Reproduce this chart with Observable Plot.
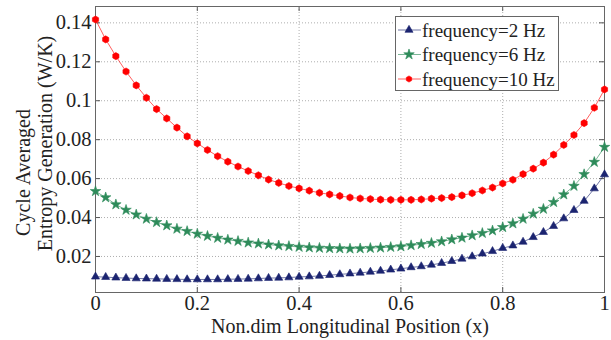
<!DOCTYPE html>
<html>
<head>
<meta charset="utf-8">
<script src="https://cdn.jsdelivr.net/npm/d3@7"></script>
<script src="https://cdn.jsdelivr.net/npm/@observablehq/plot@0.6"></script>
<style>
  html, body { margin: 0; padding: 0; background: #fff; }
  #wrap { position: relative; width: 611px; height: 340px; }
  #legend { position: absolute; left: 395px; top: 16px; }
</style>
</head>
<body>
<div id="wrap"></div>
<script>
// ---- data ----
const positions = [0,0.02,0.04,0.06,0.08,0.1,0.12,0.14,0.16,0.18,0.2,0.22,0.24,0.26,0.28,0.3,0.32,0.34,0.36,0.38,0.4,0.42,0.44,0.46,0.48,0.5,0.52,0.54,0.56,0.58,0.6,0.62,0.64,0.66,0.68,0.7,0.72,0.74,0.76,0.78,0.8,0.82,0.84,0.86,0.88,0.9,0.92,0.94,0.96,0.98,1];
const freq2 = [0.0096,0.0094,0.0091,0.0089,0.0087,0.0086,0.0085,0.0084,0.0083,0.0082,0.0082,0.0082,0.0082,0.0083,0.0084,0.0085,0.0087,0.0089,0.0090,0.0092,0.0095,0.0097,0.0100,0.0104,0.0108,0.0112,0.0116,0.0121,0.0126,0.0132,0.0137,0.0144,0.0149,0.0157,0.0166,0.0176,0.0188,0.0200,0.0214,0.0227,0.0243,0.0256,0.0275,0.0299,0.0325,0.0356,0.0395,0.0438,0.0485,0.0549,0.0621];
const freq6 = [0.0535,0.0503,0.0467,0.0439,0.0415,0.0393,0.0376,0.0359,0.0342,0.0330,0.0316,0.0305,0.0295,0.0286,0.0279,0.0271,0.0266,0.0261,0.0256,0.0253,0.0249,0.0246,0.0244,0.0242,0.0241,0.0240,0.0241,0.0243,0.0245,0.0248,0.0251,0.0257,0.0263,0.0269,0.0277,0.0287,0.0296,0.0308,0.0320,0.0333,0.0350,0.0369,0.0393,0.0419,0.0444,0.0479,0.0518,0.0562,0.0622,0.0685,0.0762];
const freq10 = [0.1417,0.1315,0.1229,0.1150,0.1079,0.1015,0.0957,0.0909,0.0862,0.0817,0.0781,0.0747,0.0715,0.0687,0.0662,0.0639,0.0617,0.0595,0.0578,0.0562,0.0550,0.0538,0.0527,0.0519,0.0511,0.0503,0.0498,0.0495,0.0492,0.0491,0.0491,0.0491,0.0493,0.0497,0.0500,0.0505,0.0514,0.0525,0.0539,0.0554,0.0575,0.0594,0.0623,0.0651,0.0682,0.0723,0.0773,0.0824,0.0885,0.0964,0.1058];
const seriesNames = ["frequency=2 Hz", "frequency=6 Hz", "frequency=10 Hz"];
const xTicks = [0, 0.2, 0.4, 0.6, 0.8, 1];
const xTickLabels = ["0", "0.2", "0.4", "0.6", "0.8", "1"];
const yTicks = [0.02, 0.04, 0.06, 0.08, 0.1, 0.12, 0.14];
const yTickLabels = ["0.02", "0.04", "0.06", "0.08", "0.1", "0.12", "0.14"];
const xLabel = "Non.dim Longitudinal Position (x)";
const yLabelLine1 = "Cycle Averaged";
const yLabelLine2 = "Entropy Generation (W/K)";

// ---- styles ----
const colors = ["#1b2470", "#2e8b5a", "#ff0000"];
const symbols = ["triangle", "star", "hexagon"];
const radii = [3.0, 3.3, 3.1];
const font = "Liberation Serif, Times New Roman, serif";

const allSeries = [freq2, freq6, freq10];
const rows = [];
allSeries.forEach((vals, i) => vals.forEach((v, j) => rows.push({x: positions[j], y: v, s: seriesNames[i]})));

const W = 611, H = 340, mL = 95, mR = 7, mT = 6, mB = 48;
const pw = W - mL - mR, ph = H - mT - mB;
const tickLen = 5;

const lineMarks = seriesNames.map((name, i) =>
  Plot.line(rows.filter(r => r.s === name), {x: "x", y: "y", stroke: colors[i], strokeWidth: 0.9, strokeOpacity: 0.7}));
const dotMarks = seriesNames.map((name, i) =>
  Plot.dot(rows.filter(r => r.s === name), {x: "x", y: "y", fill: colors[i], stroke: colors[i], strokeWidth: 0.6, symbol: symbols[i], r: radii[i]}));

const chart = Plot.plot({
  width: W, height: H,
  marginLeft: mL, marginRight: mR, marginTop: mT, marginBottom: mB,
  style: {fontFamily: font, fontSize: "20.5px", background: "#fff", color: "#222"},
  x: {domain: [0, 1]},
  y: {domain: [0.0015, 0.1484]},
  marks: [
    Plot.gridX(xTicks, {stroke: "#9a9a9a", strokeOpacity: 0.8, strokeDasharray: "1,2"}),
    Plot.gridY(yTicks, {stroke: "#9a9a9a", strokeOpacity: 0.8, strokeDasharray: "1,2"}),
    Plot.tickX(xTicks, {x: d => d, insetTop: ph - tickLen, stroke: "#555"}),
    Plot.tickX(xTicks, {x: d => d, insetBottom: ph - tickLen, stroke: "#555"}),
    Plot.tickY(yTicks, {y: d => d, insetRight: pw - tickLen, stroke: "#555"}),
    Plot.tickY(yTicks, {y: d => d, insetLeft: pw - tickLen, stroke: "#555"}),
    Plot.frame({stroke: "#666", strokeWidth: 1}),
    Plot.axisX(xTicks, {tickSize: 0, tickPadding: 3, tickFormat: (d, i) => xTickLabels[i], label: null, fontSize: 20.5, fill: "#222"}),
    Plot.axisY(yTicks, {tickSize: 0, tickPadding: 4, tickFormat: (d, i) => yTickLabels[i], label: null, fontSize: 20.5, fill: "#222"}),
    Plot.text([xLabel], {frameAnchor: "bottom", lineAnchor: "middle", dy: 34, fontSize: 20, fill: "#222"}),
    Plot.text([yLabelLine1], {frameAnchor: "left", textAnchor: "middle", lineAnchor: "middle", rotate: -90, dx: -72, dy: 23, fontSize: 20, fill: "#222"}),
    Plot.text([yLabelLine2], {frameAnchor: "left", textAnchor: "middle", lineAnchor: "middle", rotate: -90, dx: -50, dy: -6, fontSize: 20, fill: "#222"}),
    ...lineMarks,
    ...dotMarks
  ]
});
document.getElementById("wrap").appendChild(chart);

// ---- legend ----
const lw = 164, lh = 75;
const leg = d3.select("#wrap").append("svg").attr("id", "legend").attr("width", lw).attr("height", lh)
  .style("font-family", font).style("font-size", "19px");
leg.append("rect").attr("x", 0.5).attr("y", 0.5).attr("width", lw - 1).attr("height", lh - 1)
  .attr("fill", "#fff").attr("stroke", "#666");
const hexagon = {draw(ctx, size) { const r = Math.sqrt(size / Math.PI); for (let k = 0; k < 6; ++k) { const a = Math.PI / 3 * k; const px = r * Math.sin(a), py = -r * Math.cos(a); if (k === 0) ctx.moveTo(px, py); else ctx.lineTo(px, py); } ctx.closePath(); }};
const symMap = {triangle: d3.symbolTriangle, star: d3.symbolStar, hexagon: hexagon};
seriesNames.forEach((name, i) => {
  const cy = 14 + i * 24.5;
  leg.append("line").attr("x1", 3).attr("x2", 26).attr("y1", cy).attr("y2", cy)
    .attr("stroke", colors[i]).attr("stroke-width", 0.9).attr("stroke-opacity", 0.7);
  leg.append("path").attr("d", d3.symbol(symMap[symbols[i]], Math.PI * radii[i] * radii[i])())
    .attr("transform", `translate(14,${cy})`).attr("fill", colors[i]).attr("stroke", colors[i]).attr("stroke-width", 0.6);
  leg.append("text").attr("x", 27).attr("y", cy).attr("dy", "0.35em").attr("fill", "#222").text(name);
});
</script>
</body>
</html>
